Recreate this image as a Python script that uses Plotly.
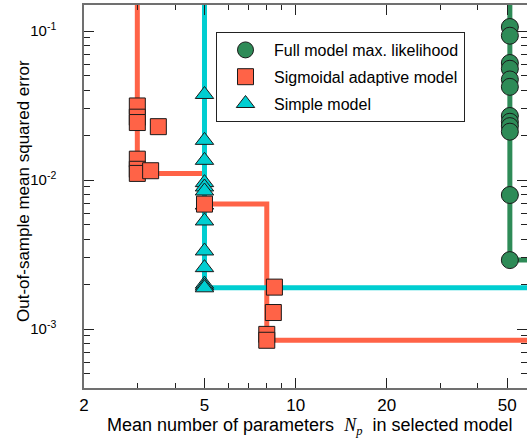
import plotly.graph_objects as go
import numpy as np

# ---------------- data ----------------
full_x = [51] * 12
full_y = [0.1064, 0.0930, 0.0610, 0.0558, 0.0473, 0.0422, 0.0269, 0.0246,
          0.0230, 0.0211, 0.00793, 0.00290]

sig_x = [3, 3, 3, 3.52, 3, 3, 3, 3.32, 5, 8.51, 8.44, 8.03, 8.03]
sig_y = [0.0314, 0.0264, 0.0243, 0.0228, 0.0138, 0.0118, 0.01107, 0.01154,
         0.00689, 0.00191, 0.00129, 0.00092, 0.00084]

simple_x = [5] * 13
simple_y = [0.0375, 0.01845, 0.01355, 0.0096, 0.00898, 0.00844, 0.00679,
            0.00531, 0.00334, 0.00258, 0.00200, 0.00194, 0.00189]

x_major = [2, 5, 10, 20, 50]
x_minor = [3, 4, 6, 7, 8, 9, 30, 40]
y_major = [0.001, 0.01, 0.1]
y_major_text = ["10<sup>-3</sup>", "10<sup>-2</sup>", "10<sup>-1</sup>"]
y_minor = [m * 10.0 ** e for e in (-4, -3, -2, -1) for m in range(2, 10)]

X_TITLE = ("Mean number of parameters  <span style=\"font-family:'Liberation Serif'\">"
           "<i>N</i><sub><i>p</i></sub></span>  in selected model")
Y_TITLE = "Out-of-sample mean squared error"

X_RANGE = [np.log10(2), np.log10(58.1)]
Y_RANGE = [-3.396, -0.8255]

GREEN = "#2E8B57"
ORANGE = "#FF6347"
CYAN = "#00CED1"


def front(xs, ys):
    """Pareto front: running minimum of error vs. number of parameters."""
    pts = sorted(zip(xs, ys))
    fx = [pts[0][0]]
    fy = [10 ** Y_RANGE[1] * 3]
    cur = None
    for x, y in pts:
        if cur is None or y < cur:
            if cur is not None:
                fx.append(x)
                fy.append(cur)
            fx.append(x)
            fy.append(y)
            cur = y
    fx.append(10 ** X_RANGE[1] * 2)
    fy.append(cur)
    return fx, fy


fig = go.Figure()

for xs, ys, col in [(sig_x, sig_y, ORANGE), (simple_x, simple_y, CYAN),
                    (full_x, full_y, GREEN)]:
    fx, fy = front(xs, ys)
    fig.add_trace(go.Scatter(x=fx, y=fy, mode="lines",
                             line=dict(color=col, width=5),
                             showlegend=False, hoverinfo="skip"))

mk_line = dict(color="#1a1a1a", width=1)
fig.add_trace(go.Scatter(x=simple_x, y=simple_y, mode="markers", name="Simple model",
                         legendgroup="c", legendrank=3,
                         marker=dict(symbol="triangle-up", size=16, color=CYAN,
                                     line=mk_line)))
fig.add_trace(go.Scatter(x=sig_x, y=sig_y, mode="markers", name="Sigmoidal adaptive model",
                         legendgroup="b", legendrank=2,
                         marker=dict(symbol="square", size=16, color=ORANGE,
                                     line=mk_line)))
fig.add_trace(go.Scatter(x=full_x, y=full_y, mode="markers", name="Full model max. likelihood",
                         legendgroup="a", legendrank=1,
                         marker=dict(symbol="circle", size=17, color=GREEN,
                                     line=mk_line)))

FONT = "Liberation Sans, Arial, sans-serif"
axis_common = dict(
    showgrid=False, zeroline=False, showline=True, linecolor="#707070", linewidth=1.5,
    mirror="ticks", ticks="inside", ticklen=10, tickwidth=1, tickcolor="#222",
)

fig.update_xaxes(
    type="log", range=X_RANGE, tickvals=x_major, ticktext=[str(v) for v in x_major],
    minor=dict(tickvals=x_minor, ticks="inside", ticklen=5, tickcolor="#222", tickwidth=1),
    ticklabelstandoff=1,
    tickfont=dict(family=FONT, size=17, color="black"),
    **axis_common)
fig.update_yaxes(
    type="log", range=Y_RANGE, tickvals=y_major, ticktext=y_major_text,
    minor=dict(tickvals=y_minor, ticks="inside", ticklen=6, tickcolor="#222", tickwidth=1),
    ticklabelstandoff=23,
    tickfont=dict(family=FONT, size=15, color="black"),
    **axis_common)

PLOT_L, PLOT_W, PLOT_T, PLOT_H = 84, 443, 5, 383

fig.add_annotation(text=X_TITLE, xref="paper", yref="paper",
                   x=(310 - PLOT_L) / PLOT_W, y=-(426 - (PLOT_T + PLOT_H)) / PLOT_H,
                   xanchor="center", yanchor="middle", showarrow=False,
                   font=dict(family=FONT, size=18, color="black"))
fig.add_annotation(text=Y_TITLE, xref="paper", yref="paper", textangle=-90,
                   x=(23 - PLOT_L) / PLOT_W, y=1 - (191 - PLOT_T) / PLOT_H,
                   xanchor="center", yanchor="middle", showarrow=False,
                   font=dict(family=FONT, size=17, color="black"))

fig.update_layout(
    width=527, height=444,
    margin=dict(l=PLOT_L, r=0, t=PLOT_T, b=444 - PLOT_T - PLOT_H, autoexpand=False),
    paper_bgcolor="white", plot_bgcolor="white",
    font=dict(family=FONT, size=16, color="black"),
    legend=dict(x=(216 - PLOT_L) / PLOT_W, y=1 - (32 - PLOT_T) / PLOT_H,
                xanchor="left", yanchor="top",
                bgcolor="white", bordercolor="#222", borderwidth=1,
                traceorder="grouped", tracegroupgap=3, itemwidth=47,
                font=dict(family=FONT, size=16, color="black")),
)

fig.write_html("out.html")
